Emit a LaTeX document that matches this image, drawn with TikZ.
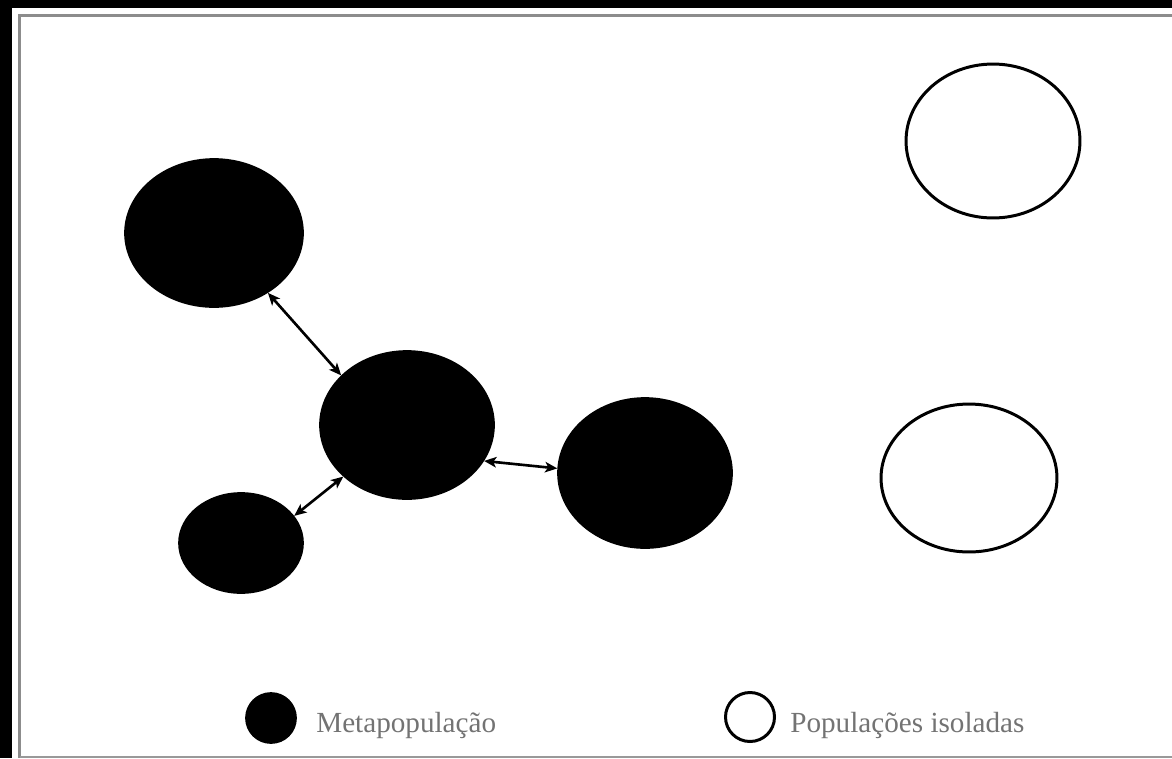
\documentclass[tikz,border=0pt]{standalone}
\usepackage{fontspec}
\setmainfont{Liberation Serif}
\usetikzlibrary{shapes.geometric,arrows.meta}
\tikzset{
  patch/.style 2 args={ellipse,inner sep=0pt,minimum width=#1*0.04cm,minimum height=#2*0.04cm},
  meta/.style={fill=black,draw=black,line width=1pt},
  isol/.style={draw=black,line width=1.7pt,fill=white},
  link/.style={{Stealth[length=7pt,width=6pt,inset=1.8pt]}-{Stealth[length=7pt,width=6pt,inset=1.8pt]},line width=1.5pt},
  legtext/.style={anchor=base west,text=black!55,font=\fontsize{16.6}{20}\selectfont,inner sep=0pt}
}
\begin{document}
\begin{tikzpicture}[x=0.02cm,y=-0.02cm]
      \useasboundingbox (0,0) rectangle (1172,758);
      % frame
      \fill[black] (0,0) rectangle (1172,8);
      \fill[black] (0,0) rectangle (12,758);
      \draw[black!45,line width=1.2pt] (1172,15.5) -- (19.5,15.5) -- (19.5,758);
      \draw[black!40,line width=1pt] (19.5,757) -- (1172,757);
      % metapopulation
      \node[meta,patch={89}{74}] (ptop) at (214,233) {};
      \node[meta,patch={87}{74}] (pmid) at (407,425) {};
      \node[meta,patch={62}{50}] (plow) at (241,543) {};
      \node[meta,patch={87}{75}] (pright) at (645,473) {};
      \draw[link] (ptop.-48) -- (pmid.143);
      \draw[link] (plow.27) -- (pmid.-141);
      \draw[link] (pmid.-25) -- (pright.177);
      % isolated populations
      \node[isol,patch={87}{77}] (iso1) at (993,141) {};
      \node[isol,patch={88}{74}] (iso2) at (969,478) {};
      % legend
      \node[meta,circle,inner sep=0pt,minimum size=50*0.02cm] (legmeta) at (271,718) {};
      \node[legtext] (txtmeta) at (316,732) {Metapopulação};
      \node[isol,circle,inner sep=0pt,minimum size=49*0.02cm] (legiso) at (750,717) {};
      \node[legtext] (txtiso) at (790,732) {Populações isoladas};
    \end{tikzpicture}
\end{document}
